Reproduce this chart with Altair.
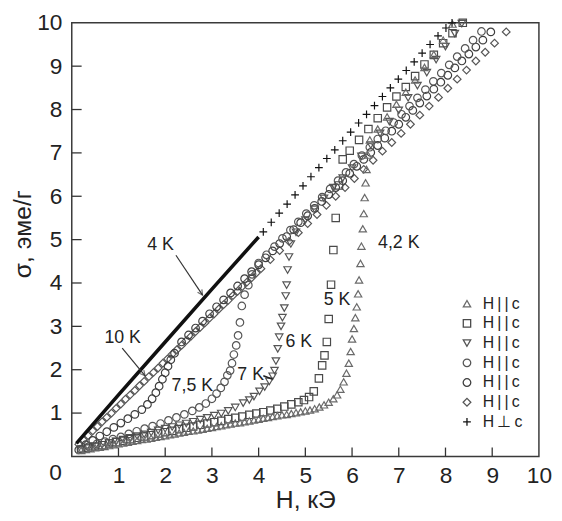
import math
import altair as alt
import pandas as pd

# sigma (emu/g) vs H (kOe)
series_names = ["4,2 K", "5 K", "6 K", "7 K", "7,5 K", "10 K", "4 K"]

h_42 = [0.2, 0.3, 0.4, 0.5, 0.6, 0.7, 0.8, 0.9, 1.0, 1.1,
        1.2, 1.3, 1.4, 1.5, 1.6, 1.7, 1.8, 1.9, 2.0, 2.1,
        2.2, 2.3, 2.4, 2.5, 2.6, 2.7, 2.8, 2.9, 3.0, 3.1,
        3.2, 3.3, 3.4, 3.5, 3.6, 3.7, 3.8, 3.9, 4.0, 4.1,
        4.2, 4.3, 4.4, 4.5, 4.6, 4.7, 4.8, 4.9, 5.0, 5.1,
        5.2, 5.3, 5.4, 5.5, 5.6,
        5.68, 5.75, 5.82, 5.88, 5.93, 5.97, 6.0, 6.04, 6.07, 6.1,
        6.13, 6.15, 6.18, 6.2, 6.23, 6.25, 6.27, 6.29, 6.31, 6.34, 6.38,
        6.55, 6.75, 6.95, 7.15, 7.35, 7.55, 7.75, 7.95, 8.15]
s_42 = [0.14, 0.16, 0.18, 0.2, 0.21, 0.23, 0.25, 0.27, 0.29, 0.31,
        0.33, 0.35, 0.37, 0.39, 0.4, 0.42, 0.44, 0.46, 0.48, 0.5,
        0.52, 0.54, 0.56, 0.58, 0.59, 0.61, 0.63, 0.65, 0.67, 0.69,
        0.71, 0.73, 0.75, 0.77, 0.78, 0.8, 0.82, 0.84, 0.86, 0.88,
        0.9, 0.92, 0.94, 0.96, 0.97, 0.99, 1.01, 1.03, 1.05, 1.07,
        1.1, 1.14, 1.19, 1.25, 1.33,
        1.42, 1.55, 1.72, 1.92, 2.15, 2.42, 2.71, 2.95, 3.2, 3.45,
        3.75, 4.07, 4.45, 4.85, 5.25, 5.6, 5.97, 6.31, 6.62, 6.95, 7.3,
        7.55, 7.83, 8.12, 8.4, 8.68, 8.97, 9.27, 9.6, 9.97]

h_5 = [0.2, 0.35, 0.5, 0.65, 0.8, 0.95, 1.1, 1.25, 1.4, 1.55,
       1.7, 1.85, 2.0, 2.15, 2.3, 2.45, 2.6, 2.75, 2.9, 3.05,
       3.2, 3.35, 3.5, 3.65, 3.8, 3.95, 4.1, 4.25, 4.4, 4.55,
       4.7, 4.85,
       4.97, 5.08, 5.18, 5.29, 5.36, 5.41, 5.46, 5.5, 5.55, 5.6, 5.65, 5.72, 5.8,
       5.95, 6.15, 6.35, 6.55, 6.75, 6.95, 7.15, 7.35, 7.55, 7.75, 7.95, 8.15, 8.37]
s_5 = [0.16, 0.2, 0.23, 0.26, 0.3, 0.33, 0.36, 0.4, 0.43, 0.46,
       0.49, 0.53, 0.56, 0.59, 0.63, 0.66, 0.69, 0.73, 0.76, 0.79,
       0.82, 0.86, 0.89, 0.92, 0.96, 0.99, 1.02, 1.06, 1.1, 1.15,
       1.2, 1.25,
       1.3, 1.37, 1.5, 1.8, 2.1, 2.33, 2.64, 3.17, 3.96, 4.76, 5.5, 6.25, 6.85,
       7.05, 7.3, 7.55, 7.8, 8.05, 8.3, 8.52, 8.77, 9.04, 9.26, 9.53, 9.76, 10.0]

h_6 = [0.2, 0.35, 0.5, 0.65, 0.8, 0.95, 1.1, 1.25, 1.4, 1.55,
       1.7, 1.85, 2.0, 2.15, 2.3, 2.45, 2.6, 2.75, 2.9, 3.05,
       3.2, 3.35, 3.5,
       3.67, 3.8, 3.9, 4.02, 4.13, 4.23, 4.3, 4.34, 4.37, 4.41,
       4.44, 4.48, 4.51, 4.55, 4.58, 4.6, 4.62, 4.65, 4.69, 4.8,
       5.0, 5.2, 5.4, 5.6, 5.8, 6.0, 6.2, 6.4, 6.6, 6.8,
       7.0, 7.2, 7.4, 7.6, 7.8, 8.0, 8.2, 8.35]
s_6 = [0.15, 0.19, 0.23, 0.27, 0.31, 0.35, 0.39, 0.43, 0.47, 0.51,
       0.55, 0.6, 0.64, 0.68, 0.72, 0.76, 0.8, 0.85, 0.89, 0.94,
       0.99, 1.05, 1.13,
       1.23, 1.3, 1.38, 1.5, 1.6, 1.73, 1.85, 1.98, 2.2, 2.48,
       2.75, 3.0, 3.2, 3.42, 3.7, 3.95, 4.3, 4.6, 4.9, 5.17,
       5.45, 5.7, 5.95, 6.2, 6.42, 6.65, 6.92, 7.18, 7.45, 7.72,
       7.98, 8.27, 8.55, 8.85, 9.15, 9.45, 9.75, 9.98]

h_7 = [0.2, 0.37, 0.54, 0.71, 0.88, 1.05, 1.22, 1.39, 1.56, 1.73,
       1.9, 2.07, 2.24, 2.41, 2.58, 2.73, 2.87, 3.0, 3.1, 3.19,
       3.27, 3.33, 3.39, 3.43, 3.47, 3.52, 3.56, 3.6, 3.64, 3.7,
       3.78, 3.86,
       4.0, 4.17, 4.34, 4.51, 4.68, 4.85, 5.02, 5.19, 5.36, 5.53,
       5.7, 5.87, 6.04, 6.21, 6.38, 6.55, 6.72, 6.89, 7.06, 7.23,
       7.4, 7.57, 7.74, 7.91, 8.08, 8.25, 8.42, 8.59, 8.77]
s_7 = [0.17, 0.23, 0.29, 0.34, 0.4, 0.45, 0.52, 0.58, 0.64, 0.7,
       0.76, 0.83, 0.9, 0.97, 1.05, 1.13, 1.22, 1.33, 1.45, 1.58,
       1.72, 1.87, 1.98, 2.15, 2.35, 2.56, 2.79, 3.09, 3.47, 3.73,
       3.95, 4.2,
       4.46, 4.65, 4.84, 5.03, 5.22, 5.41, 5.6, 5.79, 5.98, 6.17,
       6.36, 6.55, 6.74, 6.94, 7.13, 7.32, 7.51, 7.7, 7.89, 8.08,
       8.27, 8.46, 8.65, 8.84, 9.03, 9.22, 9.41, 9.6, 9.8]

h_75 = [0.15, 0.3, 0.45, 0.6, 0.75, 0.9, 1.05, 1.2, 1.35, 1.5,
        1.62, 1.72, 1.8, 1.87, 1.94, 2.0, 2.06, 2.12, 2.2,
        2.35, 2.5, 2.65, 2.8, 2.95, 3.1, 3.25, 3.4, 3.55, 3.7,
        3.85, 4.0, 4.15, 4.3, 4.45, 4.6, 4.75, 4.9, 5.05, 5.2,
        5.35, 5.5, 5.65, 5.8, 5.95, 6.1, 6.25, 6.4, 6.55, 6.7,
        6.85, 7.0, 7.15, 7.3, 7.45, 7.6, 7.75, 7.9, 8.05, 8.2,
        8.35, 8.5, 8.65, 8.8, 8.97]
s_75 = [0.15, 0.27, 0.37, 0.47, 0.57, 0.67, 0.77, 0.87, 0.97, 1.08,
        1.2, 1.33, 1.47, 1.62, 1.78, 1.93, 2.08, 2.23, 2.38,
        2.64, 2.8, 2.96, 3.12, 3.29, 3.45, 3.61, 3.77, 3.93, 4.1,
        4.26, 4.42, 4.58, 4.74, 4.91, 5.07, 5.23, 5.39, 5.55, 5.72,
        5.88, 6.04, 6.2, 6.36, 6.53, 6.69, 6.85, 7.01, 7.17, 7.34,
        7.5, 7.66, 7.82, 7.98, 8.15, 8.31, 8.47, 8.63, 8.79, 8.96,
        9.12, 9.28, 9.44, 9.6, 9.79]

h_10 = [0.15, 0.25, 0.35, 0.45, 0.55, 0.65, 0.75, 0.85, 0.95, 1.05,
        1.15, 1.25, 1.35, 1.45, 1.55, 1.65, 1.75, 1.85, 1.95, 2.05,
        2.15, 2.25, 2.35, 2.45, 2.55, 2.65, 2.75, 2.85, 2.95, 3.05,
        3.15, 3.25, 3.35, 3.45, 3.55, 3.65, 3.75, 3.85, 3.95, 4.05,
        4.25, 4.45, 4.65, 4.85, 5.05, 5.25, 5.45, 5.65, 5.85, 6.05,
        6.25, 6.45, 6.65, 6.85, 7.05, 7.25, 7.45, 7.65, 7.85, 8.05,
        8.25, 8.45, 8.65, 8.85, 9.05, 9.3]
s_10 = [0.28, 0.38, 0.48, 0.59, 0.69, 0.8, 0.9, 1.0, 1.11, 1.21,
        1.32, 1.42, 1.52, 1.63, 1.73, 1.84, 1.94, 2.04, 2.15, 2.25,
        2.36, 2.46, 2.56, 2.67, 2.77, 2.88, 2.98, 3.08, 3.19, 3.29,
        3.4, 3.5, 3.6, 3.71, 3.81, 3.92, 4.02, 4.12, 4.23, 4.33,
        4.54, 4.75, 4.96, 5.16, 5.37, 5.58, 5.79, 6.0, 6.2, 6.41,
        6.62, 6.83, 7.04, 7.24, 7.45, 7.66, 7.87, 8.08, 8.28, 8.49,
        8.7, 8.91, 9.12, 9.32, 9.53, 9.79]

# H perpendicular to c, 4 K: dense run (drawn as a thick line) + sparse crosses
h_4_dense = [0.1, 1.0, 2.0, 3.0, 4.0]
s_4_dense = [0.3, 1.42, 2.64, 3.86, 5.06]
h_4 = [4.1, 4.27, 4.44, 4.61, 4.78, 4.95, 5.12, 5.29, 5.46, 5.63,
       5.8, 5.97, 6.14, 6.31, 6.48, 6.65, 6.82, 6.99, 7.16, 7.33,
       7.5, 7.67, 7.84, 8.01, 8.14]
s_4 = [5.18, 5.4, 5.61, 5.82, 6.03, 6.24, 6.45, 6.66, 6.87, 7.07,
       7.28, 7.48, 7.69, 7.89, 8.09, 8.3, 8.5, 8.7, 8.9, 9.1,
       9.3, 9.5, 9.7, 9.88, 10.0]

label_text = ["4 K", "10 K", "7,5 K", "7 K", "6 K", "5 K", "4,2 K"]
label_h = [1.9, 1.09, 2.58, 3.83, 4.86, 5.68, 7.0]
label_s = [4.87, 2.73, 1.62, 1.88, 2.64, 3.6, 4.91]

arrow_from_h = [2.23, 1.08]
arrow_from_s = [4.64, 2.5]
arrow_to_h = [2.8, 1.57]
arrow_to_s = [3.72, 1.86]

x_ticks = list(range(1, 11))
y_ticks = list(range(1, 11))

# ---------------------------------------------------------------
W, HGT = 474, 440
PX_X, PX_Y = W / 10, HGT / 10
FONT = "Liberation Sans"
INK = "#222222"
PLUS = "M-1,0L1,0M0,-1L0,1"

series_data = {
    "10 K": (h_10, s_10), "7,5 K": (h_75, s_75), "7 K": (h_7, s_7),
    "6 K": (h_6, s_6), "5 K": (h_5, s_5), "4,2 K": (h_42, s_42), "4 K": (h_4, s_4),
}
rows = []
for name, (hs, ss) in series_data.items():
    for h, s in zip(hs, ss):
        rows.append({"H": h, "sigma": s, "series": name})
df = pd.DataFrame(rows)

x_scale = alt.Scale(domain=[0, 10], nice=False)
y_scale = alt.Scale(domain=[0, 10], nice=False)

leg = alt.Legend(
    title=None, orient="none", legendX=393, legendY=277,
    labelExpr="datum.label == '4 K' ? 'H\u2009\u22a5\u2009c' : 'H\u2009|\u2009|\u2009c'",
    labelFont=FONT, labelFontSize=16, labelColor=INK, labelOffset=8,
    rowPadding=4, symbolStrokeWidth=1.3, padding=0,
)

points = alt.Chart(df).mark_point(strokeWidth=1.2, opacity=1, filled=False).encode(
    x=alt.X("H:Q", scale=x_scale,
            axis=alt.Axis(values=x_ticks, title="H, кЭ", labelPadding=8,
                          labelFlush=False, titlePadding=1)),
    y=alt.Y("sigma:Q", scale=y_scale,
            axis=alt.Axis(values=y_ticks, title="σ, эме/г", labelPadding=10,
                          labelFlush=False,
                          titleX=-42, titleY=HGT / 2 - 6, titleAngle=270,
                          titleBaseline="alphabetic", titleAlign="center")),
    shape=alt.Shape("series:N", legend=leg, scale=alt.Scale(
        domain=series_names,
        range=["triangle-up", "square", "triangle-down", "circle", "circle",
               "diamond", PLUS])),
    stroke=alt.Stroke("series:N", legend=leg, scale=alt.Scale(
        domain=series_names,
        range=["#6a6a6a", "#4a4a4a", "#555555", "#555555", "#3d3d3d",
               "#555555", "#111111"])),
    size=alt.Size("series:N", legend=leg, scale=alt.Scale(
        domain=series_names, range=[55, 62, 55, 85, 50, 62, 30])),
)

dense_df = pd.DataFrame({"H": h_4_dense, "sigma": s_4_dense})
dense_line = alt.Chart(dense_df).mark_line(
    color="#111111", strokeWidth=3.6
).encode(x=alt.X("H:Q", scale=x_scale), y=alt.Y("sigma:Q", scale=y_scale))

# inward ticks
xt = alt.Chart(pd.DataFrame({"t": x_ticks[:-1]})).mark_rule(
    color="#333333", strokeWidth=1.3
).encode(x=alt.X("t:Q", scale=x_scale), y=alt.value(HGT), y2=alt.value(HGT - 9))
yt = alt.Chart(pd.DataFrame({"t": y_ticks[:-1]})).mark_rule(
    color="#333333", strokeWidth=1.3
).encode(y=alt.Y("t:Q", scale=y_scale), x=alt.value(0), x2=alt.value(10))

zero = alt.Chart(pd.DataFrame({"t": ["0"]})).mark_text(
    font=FONT, fontSize=23, color=INK, align="right", baseline="middle"
).encode(x=alt.value(-10), y=alt.value(HGT + 17), text="t:N")

labels = alt.Chart(pd.DataFrame({"txt": label_text, "H": label_h, "sigma": label_s})).mark_text(
    font=FONT, fontSize=18, color=INK, align="center", baseline="middle"
).encode(x=alt.X("H:Q", scale=x_scale), y=alt.Y("sigma:Q", scale=y_scale), text="txt:N")

angles = []
for h1, s1, h2, s2 in zip(arrow_from_h, arrow_from_s, arrow_to_h, arrow_to_s):
    ux, uy = (h2 - h1) * PX_X, -(s2 - s1) * PX_Y
    angles.append(math.degrees(math.atan2(-ux, uy)) % 360)
arr_df = pd.DataFrame({"h1": arrow_from_h, "s1": arrow_from_s,
                       "h2": arrow_to_h, "s2": arrow_to_s, "ang": angles})
shafts = alt.Chart(arr_df).mark_rule(color="#333333", strokeWidth=1.2).encode(
    x=alt.X("h1:Q", scale=x_scale), y=alt.Y("s1:Q", scale=y_scale),
    x2="h2:Q", y2="s2:Q")
heads = alt.Chart(arr_df).mark_point(
    shape="M-0.5,-1L0,0L0.5,-1", filled=False, size=110,
    color="#333333", strokeWidth=1.2
).encode(x=alt.X("h2:Q", scale=x_scale), y=alt.Y("s2:Q", scale=y_scale),
         angle=alt.Angle("ang:Q", scale=None))

dash = alt.Chart(pd.DataFrame({"h1": [4.1], "s1": [1.86], "h2": [4.3], "s2": [1.78]})).mark_rule(
    color="#222222", strokeWidth=1.5
).encode(x=alt.X("h1:Q", scale=x_scale), y=alt.Y("s1:Q", scale=y_scale),
         x2="h2:Q", y2="s2:Q")

chart = alt.layer(
    xt, yt, points, dense_line, shafts, heads, dash, labels, zero
).properties(
    width=W, height=HGT,
    autosize=alt.AutoSizeParams(type="none"),
    padding={"left": 64.7, "top": 11.3, "right": 15.3, "bottom": 56},
).configure_view(
    stroke="#3a3a3a", strokeWidth=1.5
).configure_axis(
    domain=False, ticks=False, grid=False,
    labelFont=FONT, labelFontSize=23, labelColor=INK,
    titleFont=FONT, titleFontSize=25, titleColor=INK, titleFontWeight="normal",
)

chart.save("out.html", embed_options={"renderer": "svg", "actions": False})
